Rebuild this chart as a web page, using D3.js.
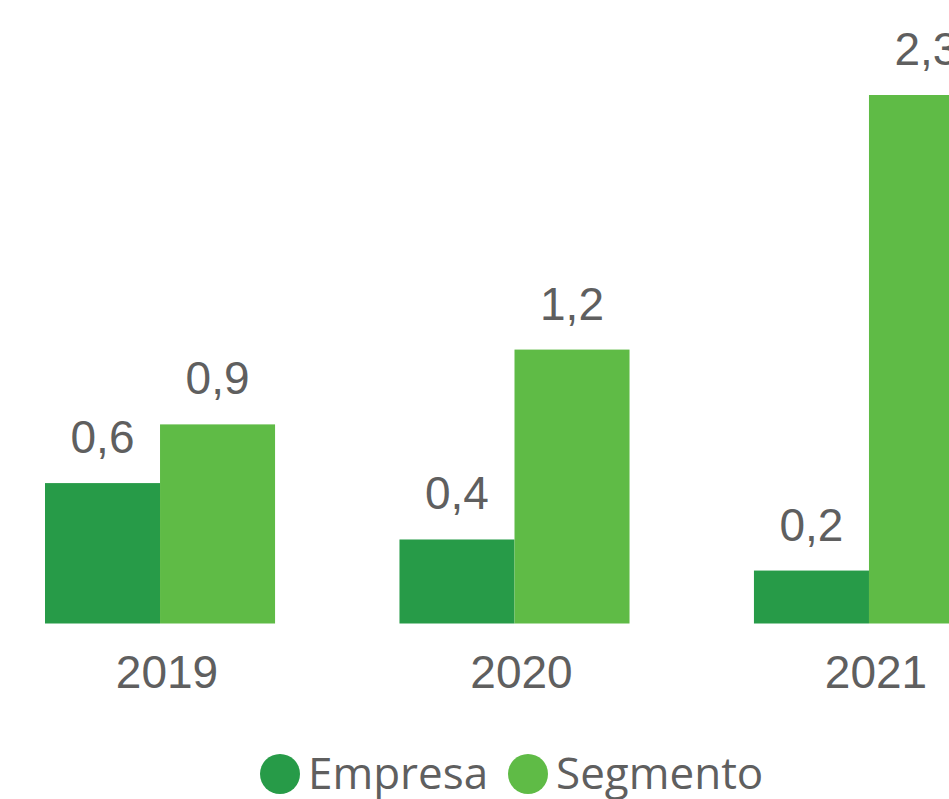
<!DOCTYPE html>
<html lang="pt">
<head>
<meta charset="UTF-8">
<title>Empresa x Segmento</title>
<script src="https://d3js.org/d3.v7.min.js"></script>
<style>
html, body { margin: 0; padding: 0; background: #ffffff; }
svg { display: block; }
.label { font-family: "Liberation Sans", Arial, sans-serif; font-size: 46px; fill: #5f5f5f; }
.year { font-family: "Liberation Sans", Arial, sans-serif; font-size: 46px; fill: #5f5f5f; }
.legend text { font-family: "Open Sans", "Noto Sans", sans-serif; font-size: 44px; fill: #5f5f5f; }
</style>
</head>
<body>
<script>
const years = ['2019', '2020', '2021'];
const series = ['Empresa', 'Segmento'];
const empresa = [0.61, 0.365, 0.23];
const segmento = [0.865, 1.19, 2.296];
const colors = ['#279b48', '#5fbb46'];

const w = 949, h = 799;
const baseline = 623.5;

const svg = d3.select('body').append('svg').attr('width', w).attr('height', h);

const x0 = d3.scaleBand().domain(years).range([45, 984]).paddingInner(0.351).paddingOuter(0);
const x1 = d3.scaleBand().domain(series).range([0, x0.bandwidth()]);
const y = d3.scaleLinear().domain([0, 2.296]).range([baseline, 95]);
const color = d3.scaleOrdinal().domain(series).range(colors);

const pt = d3.formatLocale({decimal: ',', thousands: '.', grouping: [3], currency: ['R$', '']});
const fmt = pt.format('.1f');

const rows = years.map((yr, i) => ({year: yr, values: [
    {key: 'Empresa', value: empresa[i]},
    {key: 'Segmento', value: segmento[i]}
]}));

const groups = svg.selectAll('g.group').data(rows).enter().append('g')
    .attr('class', 'group')
    .attr('transform', d => 'translate(' + x0(d.year) + ',0)');

groups.selectAll('rect').data(d => d.values).enter().append('rect')
    .attr('x', d => x1(d.key))
    .attr('y', d => y(d.value))
    .attr('width', x1.bandwidth())
    .attr('height', d => baseline - y(d.value))
    .attr('fill', d => color(d.key));

groups.selectAll('text.label').data(d => d.values).enter().append('text')
    .attr('class', 'label')
    .attr('x', d => x1(d.key) + x1.bandwidth() / 2)
    .attr('y', d => y(d.value) - 30)
    .attr('text-anchor', 'middle')
    .text(d => fmt(d.value));

// category labels, no axis line
const xAxis = d3.axisBottom(x0).tickSize(0).tickPadding(0);
const axisG = svg.append('g').attr('transform', 'translate(7,' + baseline + ')').call(xAxis);
axisG.select('.domain').remove();
axisG.selectAll('text')
    .attr('class', 'year')
    .attr('font-family', null).attr('font-size', null)
    .attr('fill', null)
    .attr('dy', null)
    .attr('y', 64);

// legend
const legend = svg.append('g').attr('class', 'legend');
const legX = [280, 528];
series.forEach((s, i) => {
    legend.append('circle').attr('cx', legX[i]).attr('cy', 774).attr('r', 20).attr('fill', colors[i]);
    legend.append('text').attr('x', legX[i] + 28).attr('y', 789).text(s);
});
</script>
</body>
</html>
